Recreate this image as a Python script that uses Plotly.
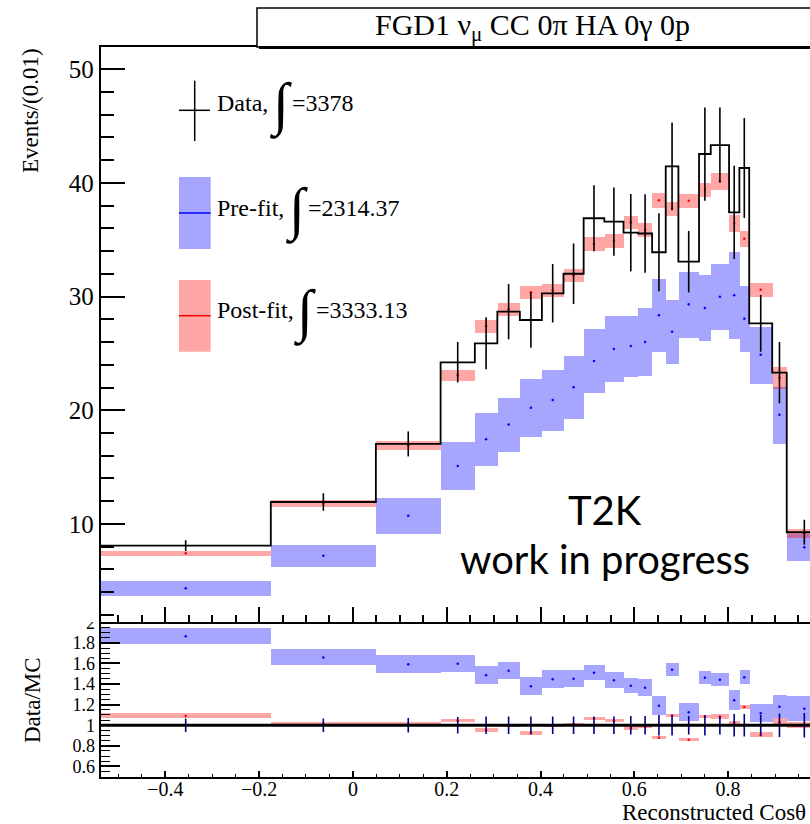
import plotly.graph_objects as go

# ---- binning in reconstructed cos(theta) ----
bin_edges = [-0.538, -0.175, 0.049, 0.187, 0.260, 0.308, 0.356, 0.403, 0.449, 0.492,
             0.536, 0.577, 0.608, 0.638, 0.667, 0.694, 0.738, 0.763, 0.802, 0.824,
             0.845, 0.894, 0.925, 1.000]

# ---- events / (0.01) ----
data_vals = [8.09, 11.93, 17.04, 24.22, 25.89, 28.67, 27.94, 30.29, 32.01, 36.89,
             36.59, 35.62, 35.55, 33.90, 41.46, 33.07, 42.54, 43.33, 37.41, 41.31,
             27.65, 23.31, 9.27]
data_errs = [0.47, 0.77, 1.10, 1.78, 2.29, 2.43, 2.45, 2.57, 2.67, 2.90,
             3.00, 3.40, 3.45, 3.43, 3.86, 2.70, 4.10, 3.30, 4.10, 4.40,
             2.50, 2.70, 1.10]

prefit_vals = [4.34, 7.20, 10.72, 15.10, 17.45, 18.75, 20.22, 20.90, 22.03, 24.34,
               25.39, 25.65, 26.00, 28.36, 26.90, 29.32, 29.00, 29.98, 30.11, 28.04,
               24.88, 19.60, 7.95]
prefit_errs = [0.64, 0.95, 1.60, 2.10, 2.30, 2.40, 2.54, 2.70, 2.80, 2.80,
               2.90, 2.70, 3.00, 3.20, 2.80, 2.90, 2.90, 2.90, 3.80, 2.90,
               2.50, 2.50, 1.20]

postfit_vals = [7.42, 11.82, 16.90, 23.08, 27.39, 28.88, 30.38, 30.55, 31.87, 34.64,
                34.91, 36.53, 35.87, 38.48, 37.72, 38.44, 39.39, 40.14, 36.44, 35.08,
                30.60, 22.85, 9.19]
postfit_errs = [0.23, 0.29, 0.40, 0.47, 0.56, 0.56, 0.56, 0.56, 0.56, 0.60,
                0.60, 0.60, 0.60, 0.63, 0.60, 0.60, 0.60, 0.73, 0.73, 0.70,
                0.60, 0.95, 0.37]

# ---- data / MC ratios ----
ratio_pre = [1.864, 1.658, 1.592, 1.597, 1.485, 1.529, 1.378, 1.446, 1.451, 1.509,
             1.436, 1.383, 1.363, 1.189, 1.538, 1.126, 1.461, 1.441, 1.242, 1.466,
             1.116, 1.180, 1.160]
ratio_pre_errs = [0.081, 0.080, 0.090, 0.086, 0.090, 0.086, 0.090, 0.090, 0.086, 0.076,
                  0.081, 0.076, 0.086, 0.095, 0.066, 0.090, 0.066, 0.066, 0.100, 0.071,
                  0.091, 0.113, 0.125]
ratio_post = [1.090, 1.012, 1.010, 1.043, 0.951, 0.993, 0.921, 0.993, 1.010, 1.062,
              1.044, 0.973, 0.985, 0.878, 1.094, 0.858, 1.082, 1.082, 1.027, 1.177,
              0.903, 1.030, 1.000]
ratio_post_errs = [0.026, 0.017, 0.018, 0.018, 0.023, 0.015, 0.023, 0.015, 0.011, 0.018,
                   0.016, 0.019, 0.012, 0.018, 0.015, 0.018, 0.015, 0.021, 0.015, 0.019,
                   0.024, 0.034, 0.029]
data_rel_errs = [0.065, 0.065, 0.070, 0.080, 0.085, 0.085, 0.085, 0.085, 0.085, 0.085,
                 0.085, 0.090, 0.090, 0.100, 0.100, 0.090, 0.100, 0.090, 0.110, 0.110,
                 0.100, 0.115, 0.120]

y_ticks_top = [10, 20, 30, 40, 50]
y_ticks_ratio = [0.6, 0.8, 1.0, 1.2, 1.4, 1.6, 1.8, 2.0]
y_ticktext_ratio = ["0.6", "0.8", "1", "1.2", "1.4", "1.6", "1.8", "2"]

legend_labels = ["Data,", "Pre-fit,", "Post-fit,"]
legend_integrals = ["=3378", "=2314.37", "=3333.13"]

W, H = 810, 824
SERIF = "Liberation Serif"
BLUE_FILL = "rgba(0,0,255,0.35)"
RED_FILL = "rgba(255,0,0,0.35)"


def px(x):
    return x / W


def py(y):
    return 1 - y / H


centers = [(a + b) / 2 for a, b in zip(bin_edges[:-1], bin_edges[1:])]
widths = [b - a for a, b in zip(bin_edges[:-1], bin_edges[1:])]


def band(vals, errs, fill, xa, ya):
    return go.Bar(x=centers, y=[2 * e for e in errs],
                  base=[v - e for v, e in zip(vals, errs)],
                  width=widths, marker=dict(color=fill, line=dict(width=0)),
                  xaxis=xa, yaxis=ya, showlegend=False, hoverinfo="skip")


def dots(vals, color, xa, ya):
    return go.Scatter(x=centers, y=vals, mode="markers",
                      marker=dict(color=color, size=2.5),
                      xaxis=xa, yaxis=ya, showlegend=False, hoverinfo="skip")


fig = go.Figure()

# upper pad: predictions with uncertainty bands, data histogram with errors
fig.add_trace(band(prefit_vals, prefit_errs, BLUE_FILL, "x", "y"))
fig.add_trace(band(postfit_vals, postfit_errs, RED_FILL, "x", "y"))
fig.add_trace(dots(prefit_vals, "blue", "x", "y"))
fig.add_trace(dots(postfit_vals, "red", "x", "y"))
fig.add_trace(go.Scatter(x=bin_edges, y=data_vals + [data_vals[-1]], mode="lines",
                         line=dict(color="black", width=1.8, shape="hv"),
                         xaxis="x", yaxis="y", showlegend=False, hoverinfo="skip"))
fig.add_trace(go.Scatter(x=centers, y=data_vals, mode="markers",
                         marker=dict(size=1, color="black"),
                         error_y=dict(type="data", array=data_errs, width=0,
                                      thickness=1.6, color="black"),
                         xaxis="x", yaxis="y", showlegend=False, hoverinfo="skip"))

# lower pad: data / MC ratios
fig.add_trace(band(ratio_pre, ratio_pre_errs, BLUE_FILL, "x2", "y2"))
fig.add_trace(band(ratio_post, ratio_post_errs, RED_FILL, "x2", "y2"))
fig.add_trace(dots(ratio_pre, "blue", "x2", "y2"))
fig.add_trace(dots(ratio_post, "red", "x2", "y2"))
fig.add_trace(go.Scatter(x=centers, y=[1.0] * len(centers), mode="markers",
                         marker=dict(size=1, color="#00008b"),
                         error_y=dict(type="data", array=data_rel_errs, width=0,
                                      thickness=1.6, color="#00008b"),
                         xaxis="x2", yaxis="y2", showlegend=False, hoverinfo="skip"))

x_dom = [px(100.7), 1.0]
x_range = [-0.5377, 0.9746]
axis_common = dict(showline=True, linecolor="black", linewidth=2, showgrid=False,
                   zeroline=False, ticks="inside", tickcolor="black", automargin=False)

fig.update_layout(
    width=W, height=H,
    margin=dict(l=0, r=0, t=0, b=0, pad=0, autoexpand=False),
    paper_bgcolor="white", plot_bgcolor="rgba(0,0,0,0)",
    barmode="overlay", bargap=0,
    font=dict(family=SERIF, color="black"),
    xaxis=dict(domain=x_dom, range=x_range, anchor="y", mirror=True,
               showticklabels=False, tick0=0, dtick=0.2, ticklen=15, tickwidth=1.5,
               minor=dict(dtick=0.05, ticklen=7, ticks="inside", tickcolor="black",
                          tickwidth=1.5),
               **axis_common),
    yaxis=dict(domain=[py(622.3), py(46.7)], range=[1.35, 51.98], anchor="x",
               tickvals=y_ticks_top, ticklen=24, tickwidth=1.5,
               tickfont=dict(family=SERIF, size=25),
               minor=dict(dtick=2, ticklen=13, ticks="inside", tickcolor="black",
                          tickwidth=1.5),
               **axis_common),
    xaxis2=dict(domain=x_dom, range=x_range, anchor="y2",
                tick0=0, dtick=0.2, ticklen=5.5, tickwidth=1.5,
                tickfont=dict(family=SERIF, size=20), ticklabelstandoff=-7,
                minor=dict(dtick=0.05, ticklen=3, ticks="inside", tickcolor="black",
                           tickwidth=1.2),
                **axis_common),
    yaxis2=dict(domain=[py(776.7), py(622.3)], range=[0.5, 2.0], anchor="x2",
                tickvals=y_ticks_ratio, ticktext=y_ticktext_ratio,
                ticklen=19, tickwidth=1.5,
                tickfont=dict(family=SERIF, size=18),
                minor=dict(dtick=0.05, ticklen=9, ticks="inside", tickcolor="black",
                           tickwidth=1.2),
                **axis_common),
)

shapes = []
# unity line in the ratio pad
shapes.append(dict(type="line", xref="x2 domain", yref="y2", x0=0, x1=1, y0=1, y1=1,
                   line=dict(color="black", width=3)))
# top half of the ratio pad's "2" label is hidden under the upper pad
shapes.append(dict(type="rect", xref="paper", yref="paper", layer="above",
                   x0=px(55), x1=px(99), y0=py(622), y1=py(600),
                   fillcolor="white", line=dict(width=0)))
# title box with shadow
shapes.append(dict(type="rect", xref="paper", yref="paper", layer="above",
                   x0=px(257), x1=px(830), y0=py(47), y1=py(8),
                   fillcolor="white", line=dict(color="black", width=1.5)))
shapes.append(dict(type="line", xref="paper", yref="paper", layer="above",
                   x0=px(259), x1=px(830), y0=py(47.5), y1=py(47.5),
                   line=dict(color="black", width=3)))
# legend symbols
shapes.append(dict(type="line", xref="paper", yref="paper", x0=px(194.7), x1=px(194.7),
                   y0=py(141), y1=py(80.7), line=dict(color="black", width=1.5)))
shapes.append(dict(type="line", xref="paper", yref="paper", x0=px(179), x1=px(210),
                   y0=py(110.3), y1=py(110.3), line=dict(color="black", width=1.5)))
for (top, bot, mid, fill, col) in [(177, 249, 213, BLUE_FILL, "blue"),
                                   (280, 351.7, 315.7, RED_FILL, "red")]:
    shapes.append(dict(type="rect", xref="paper", yref="paper",
                       x0=px(179), x1=px(210.7), y0=py(bot), y1=py(top),
                       fillcolor=fill, line=dict(width=0)))
    shapes.append(dict(type="line", xref="paper", yref="paper",
                       x0=px(179), x1=px(210.7), y0=py(mid), y1=py(mid),
                       line=dict(color=col, width=1.5)))
fig.update_layout(shapes=shapes)

ann = []
# title
ann.append(dict(x=px(532), y=py(27), xref="paper", yref="paper", showarrow=False,
                text="FGD1 ν<sub>μ</sub> CC 0π HA 0γ 0p",
                font=dict(family=SERIF, size=30), xanchor="center", yanchor="middle"))
# legend text
rows = [(103.5, 268, 290.7), (207.5, 284, 306.7), (310.0, 292, 315.0)]
for lab, integ, (yc, xint, xeq) in zip(legend_labels, legend_integrals, rows):
    ann.append(dict(x=px(216), y=py(yc), xref="paper", yref="paper", showarrow=False,
                    text=lab, font=dict(family=SERIF, size=24),
                    xanchor="left", yanchor="middle", borderpad=0))
    ann.append(dict(x=px(xint), y=py(yc + 2), xref="paper", yref="paper", showarrow=False,
                    text="<b>∫</b>", font=dict(family=SERIF, size=58),
                    xanchor="left", yanchor="middle", borderpad=0))
    ann.append(dict(x=px(xeq), y=py(yc), xref="paper", yref="paper", showarrow=False,
                    text=integ, font=dict(family=SERIF, size=24),
                    xanchor="left", yanchor="middle", borderpad=0))
# axis titles
ann.append(dict(x=px(30), y=py(111), xref="paper", yref="paper", showarrow=False,
                text="Events/(0.01)", textangle=-90,
                font=dict(family=SERIF, size=23), xanchor="center", yanchor="middle"))
ann.append(dict(x=px(32), y=py(700), xref="paper", yref="paper", showarrow=False,
                text="Data/MC", textangle=-90,
                font=dict(family=SERIF, size=23), xanchor="center", yanchor="middle"))
ann.append(dict(x=px(621), y=py(812), xref="paper", yref="paper", showarrow=False,
                text="Reconstructed Cosθ",
                font=dict(family=SERIF, size=23), xanchor="left", yanchor="middle",
                borderpad=0))
# experiment label
ann.append(dict(x=px(605), y=py(510), xref="paper", yref="paper", showarrow=False,
                text="T2K", font=dict(family="Lato", size=40),
                xanchor="center", yanchor="middle"))
ann.append(dict(x=px(605), y=py(559), xref="paper", yref="paper", showarrow=False,
                text="work in progress", font=dict(family="Lato", size=40),
                xanchor="center", yanchor="middle"))
fig.update_layout(annotations=ann)

fig.write_html("out.html")
